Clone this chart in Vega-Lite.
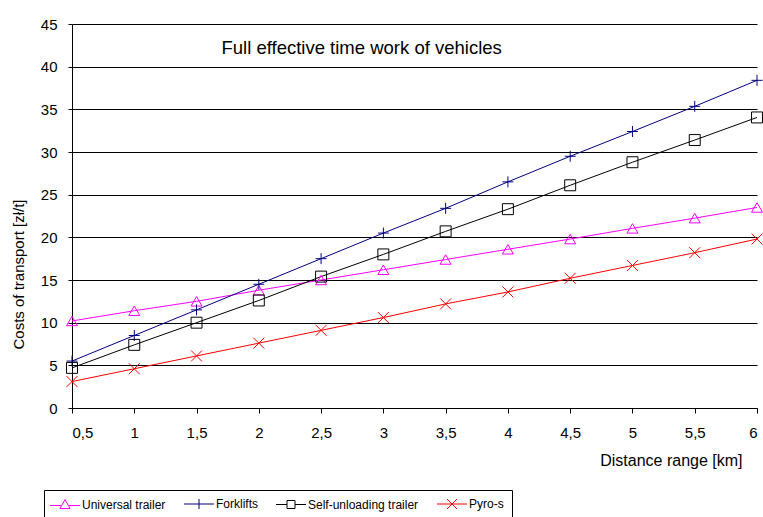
{
  "$schema": "https://vega.github.io/schema/vega-lite/v6.json",
  "width": 685,
  "height": 384,
  "autosize": {"type": "none"},
  "padding": {"left": 72, "top": 24, "right": 6, "bottom": 109},
  "background": "white",
  "config": {
    "view": {"stroke": null},
    "font": "Liberation Sans",
    "axis": {"labelFont": "Liberation Sans", "titleFont": "Liberation Sans", "labelColor": "black", "titleColor": "black", "domainColor": "black", "tickColor": "black", "titleFontWeight": "normal"},
    "legend": {
      "orient": "none", "legendX": -28, "legendY": 466,
      "direction": "horizontal", "columns": 4,
      "strokeColor": "black", "padding": 8, "columnPadding": 16,
      "labelFont": "Liberation Sans", "labelFontSize": 12, "labelColor": "black",
      "symbolSize": 100, "symbolOffset": 7, "labelOffset": 11,
      "symbolFillColor": "transparent", "symbolStrokeWidth": 1, "symbolOpacity": 1
    }
  },
  "data": {
    "values": [
      {"d": 0.5, "s": "Universal trailer", "c": 10.2},
      {"d": 1, "s": "Universal trailer", "c": 11.4},
      {"d": 1.5, "s": "Universal trailer", "c": 12.5},
      {"d": 2, "s": "Universal trailer", "c": 13.8},
      {"d": 2.5, "s": "Universal trailer", "c": 15.0},
      {"d": 3, "s": "Universal trailer", "c": 16.2},
      {"d": 3.5, "s": "Universal trailer", "c": 17.4},
      {"d": 4, "s": "Universal trailer", "c": 18.6},
      {"d": 4.5, "s": "Universal trailer", "c": 19.8},
      {"d": 5, "s": "Universal trailer", "c": 21.05},
      {"d": 5.5, "s": "Universal trailer", "c": 22.25},
      {"d": 6, "s": "Universal trailer", "c": 23.5},
      {"d": 0.5, "s": "Forklifts", "c": 5.5},
      {"d": 1, "s": "Forklifts", "c": 8.5},
      {"d": 1.5, "s": "Forklifts", "c": 11.5},
      {"d": 2, "s": "Forklifts", "c": 14.5},
      {"d": 2.5, "s": "Forklifts", "c": 17.5},
      {"d": 3, "s": "Forklifts", "c": 20.5},
      {"d": 3.5, "s": "Forklifts", "c": 23.4},
      {"d": 4, "s": "Forklifts", "c": 26.5},
      {"d": 4.5, "s": "Forklifts", "c": 29.5},
      {"d": 5, "s": "Forklifts", "c": 32.4},
      {"d": 5.5, "s": "Forklifts", "c": 35.35},
      {"d": 6, "s": "Forklifts", "c": 38.4},
      {"d": 0.5, "s": "Self-unloading trailer", "c": 4.7},
      {"d": 1, "s": "Self-unloading trailer", "c": 7.4},
      {"d": 1.5, "s": "Self-unloading trailer", "c": 10.0},
      {"d": 2, "s": "Self-unloading trailer", "c": 12.6},
      {"d": 2.5, "s": "Self-unloading trailer", "c": 15.4},
      {"d": 3, "s": "Self-unloading trailer", "c": 18.0},
      {"d": 3.5, "s": "Self-unloading trailer", "c": 20.7},
      {"d": 4, "s": "Self-unloading trailer", "c": 23.3},
      {"d": 4.5, "s": "Self-unloading trailer", "c": 26.1},
      {"d": 5, "s": "Self-unloading trailer", "c": 28.8},
      {"d": 5.5, "s": "Self-unloading trailer", "c": 31.4},
      {"d": 6, "s": "Self-unloading trailer", "c": 34.05},
      {"d": 0.5, "s": "Pyro-s", "c": 3.1},
      {"d": 1, "s": "Pyro-s", "c": 4.6},
      {"d": 1.5, "s": "Pyro-s", "c": 6.1},
      {"d": 2, "s": "Pyro-s", "c": 7.6},
      {"d": 2.5, "s": "Pyro-s", "c": 9.1},
      {"d": 3, "s": "Pyro-s", "c": 10.6},
      {"d": 3.5, "s": "Pyro-s", "c": 12.2},
      {"d": 4, "s": "Pyro-s", "c": 13.6},
      {"d": 4.5, "s": "Pyro-s", "c": 15.2},
      {"d": 5, "s": "Pyro-s", "c": 16.7},
      {"d": 5.5, "s": "Pyro-s", "c": 18.2},
      {"d": 6, "s": "Pyro-s", "c": 19.8}
    ]
  },
  "layer": [
    {
      "mark": {"type": "line", "strokeWidth": 1},
      "encoding": {
        "x": {
          "field": "d", "type": "quantitative",
          "scale": {"domain": [0.5, 6], "nice": false, "zero": false},
          "axis": {
            "values": [0.5, 1, 1.5, 2, 2.5, 3, 3.5, 4, 4.5, 5, 5.5, 6],
            "format": "~g",
            "labelExpr": "replace(datum.label, '.', ',')",
            "grid": false, "tickSize": 5, "labelPadding": 12, "labelFontSize": 15,
            "title": "Distance range [km]", "titleFontSize": 16,
            "titleAnchor": "end", "titleAlign": "right", "titleX": 670, "titleY": 52, "titleBaseline": "middle"
          }
        },
        "y": {
          "field": "c", "type": "quantitative",
          "scale": {"domain": [0, 45], "nice": false},
          "axis": {
            "values": [0, 5, 10, 15, 20, 25, 30, 35, 40, 45],
            "grid": true, "gridColor": "black", "gridOpacity": 1, "gridWidth": 1,
            "tickSize": 4, "labelPadding": 11, "labelFontSize": 15,
            "title": "Costs of transport [zł/t]", "titleFontSize": 15,
            "titleX": -54, "titleY": 250, "titleAngle": -90, "titleAlign": "center", "titleBaseline": "middle"
          }
        },
        "color": {
          "field": "s", "type": "nominal",
          "scale": {"domain": ["Universal trailer", "Forklifts", "Self-unloading trailer", "Pyro-s"], "range": ["#FF00FF", "#000080", "#000000", "#FF0000"]},
          "legend": {"title": null}
        }
      }
    },
    {
      "transform": [{"filter": "datum.c < 0"}],
      "mark": {"type": "point", "filled": false, "strokeWidth": 1},
      "encoding": {
        "x": {"field": "d", "type": "quantitative"},
        "y": {"field": "c", "type": "quantitative"},
        "color": {"field": "s", "type": "nominal", "legend": {"title": null}},
        "shape": {
          "field": "s", "type": "nominal",
          "scale": {"domain": ["Universal trailer", "Forklifts", "Self-unloading trailer", "Pyro-s"], "range": ["M-3,0.2H-0.75M0.75,0.2H3M0,-1L1,0.8H-1Z", "M-3,0H3M0,-1V1", "M-3,0H-0.8M0.8,0H3M-0.8,-0.8H0.8V0.8H-0.8Z", "M-3,0H3M-1,-1L1,1M-1,1L1,-1"]},
          "legend": {"title": null}
        }
      }
    },
    {
      "transform": [{"filter": "datum.s === 'Universal trailer'"}],
      "mark": {"type": "point", "shape": "triangle-up", "filled": false, "strokeWidth": 1, "size": 120, "opacity": 1},
      "encoding": {
        "x": {"field": "d", "type": "quantitative"},
        "y": {"field": "c", "type": "quantitative"},
        "color": {"field": "s", "type": "nominal"}
      }
    },
    {
      "transform": [{"filter": "datum.s === 'Forklifts'"}],
      "mark": {"type": "point", "shape": "M-1,0H1M0,-1V1", "filled": false, "strokeWidth": 1, "size": 120, "opacity": 1},
      "encoding": {
        "x": {"field": "d", "type": "quantitative"},
        "y": {"field": "c", "type": "quantitative"},
        "color": {"field": "s", "type": "nominal"}
      }
    },
    {
      "transform": [{"filter": "datum.s === 'Self-unloading trailer'"}],
      "mark": {"type": "point", "shape": "square", "filled": false, "strokeWidth": 1, "size": 120, "opacity": 1},
      "encoding": {
        "x": {"field": "d", "type": "quantitative"},
        "y": {"field": "c", "type": "quantitative"},
        "color": {"field": "s", "type": "nominal"}
      }
    },
    {
      "transform": [{"filter": "datum.s === 'Pyro-s'"}],
      "mark": {"type": "point", "shape": "M-1,-1L1,1M-1,1L1,-1", "filled": false, "strokeWidth": 1, "size": 120, "opacity": 1},
      "encoding": {
        "x": {"field": "d", "type": "quantitative"},
        "y": {"field": "c", "type": "quantitative"},
        "color": {"field": "s", "type": "nominal"}
      }
    },
    {
      "data": {"values": [{"d": 1.7, "c": 42.2, "t": "Full effective time work of vehicles"}]},
      "mark": {"type": "text", "align": "left", "baseline": "middle", "fontSize": 18.5, "font": "Liberation Sans", "color": "black"},
      "encoding": {
        "x": {"field": "d", "type": "quantitative"},
        "y": {"field": "c", "type": "quantitative"},
        "text": {"field": "t"}
      }
    }
  ]
}
